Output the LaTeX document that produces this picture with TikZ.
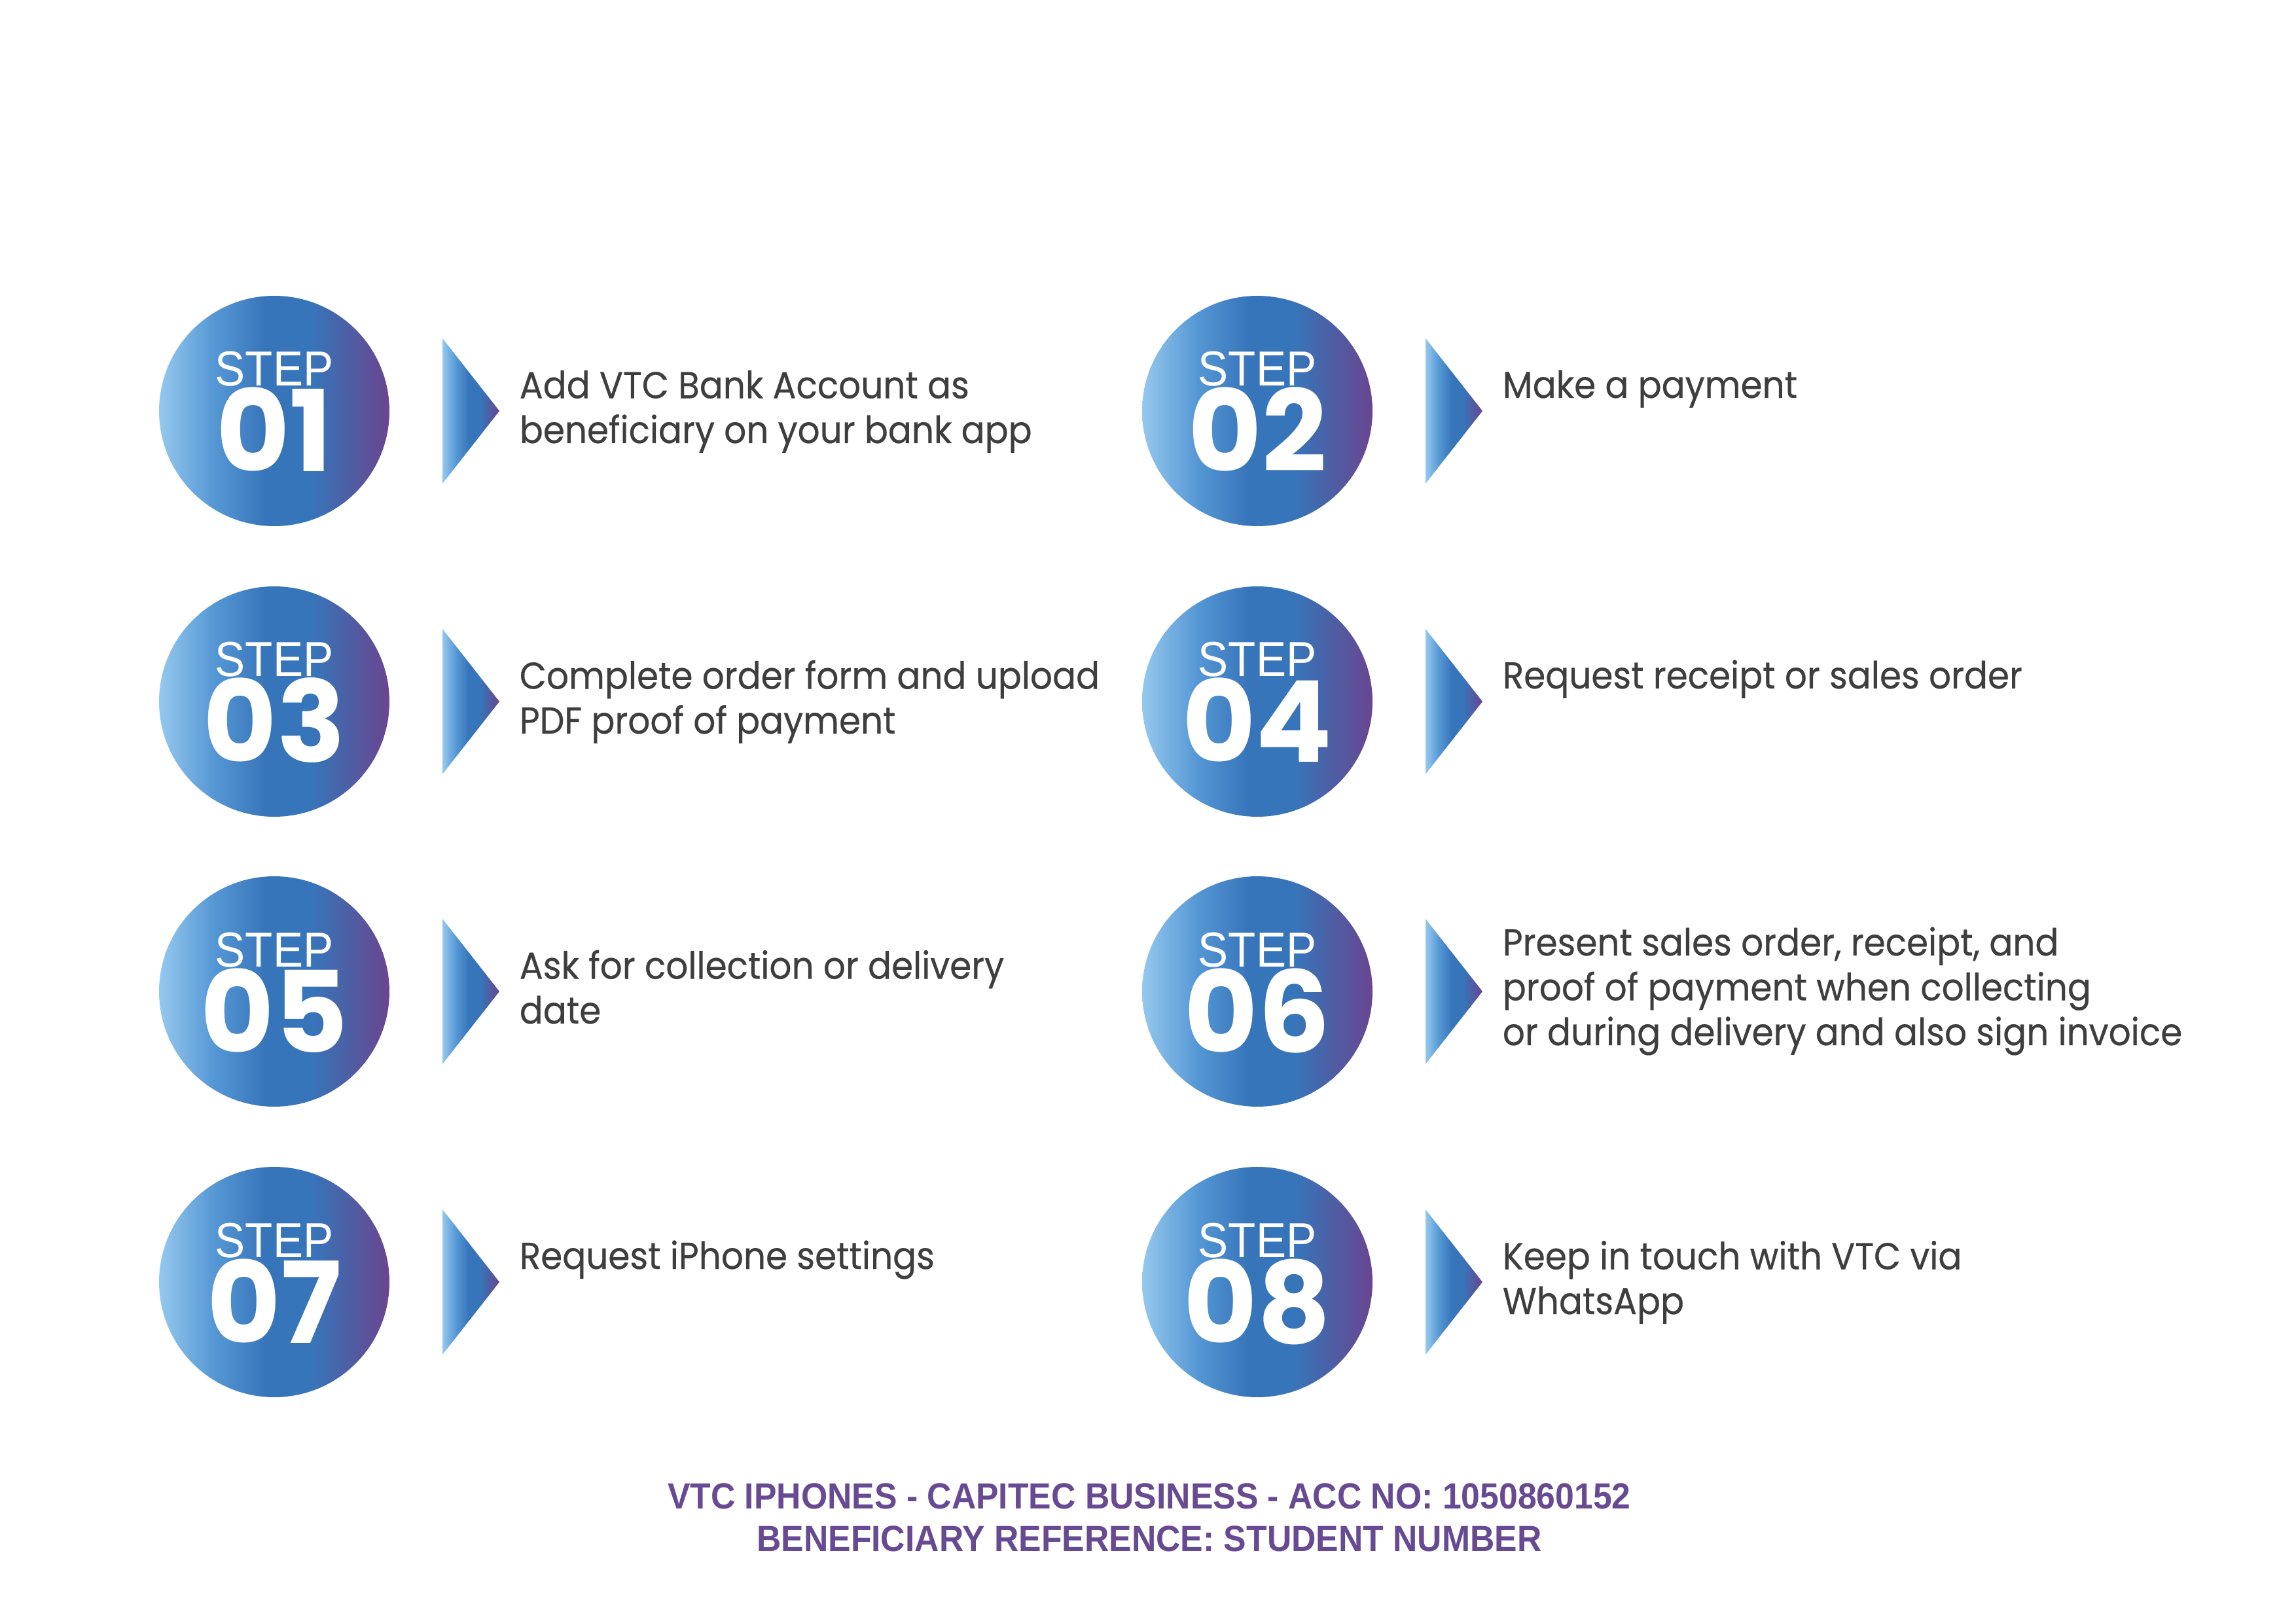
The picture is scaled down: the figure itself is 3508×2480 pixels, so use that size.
\documentclass[tikz,border=0pt]{standalone}
\usepackage{fontspec}
\setmainfont{Poppins}
\newfontfamily\bodyfont{Poppins}[FakeStretch=0.93, FakeBold=0.4]
\newfontfamily\stepfont{Liberation Sans}[FakeStretch=0.92]
\newfontfamily\footfont{Liberation Sans}[FakeStretch=0.93]
\usetikzlibrary{calc}

\definecolor{lightsky}{RGB}{149,200,238}
\definecolor{midblue}{RGB}{85,151,213}
\definecolor{stepblue}{RGB}{55,117,186}
\definecolor{duskblue}{RGB}{77,95,165}
\definecolor{steppurple}{RGB}{106,69,144}
\definecolor{textgrey}{RGB}{62,62,62}
\definecolor{footpurple}{RGB}{103,74,145}
\pgfdeclarehorizontalshading{stepshade}{100bp}{color(0bp)=(lightsky); color(25bp)=(lightsky); color(37bp)=(midblue); color(48bp)=(stepblue); color(58bp)=(stepblue); color(66bp)=(duskblue); color(75bp)=(steppurple); color(100bp)=(steppurple)}

\begin{document}
\begin{tikzpicture}[x=0.0846667mm, y=-0.0846667mm,
  stepcircle/.style={circle, minimum size=29.8mm, inner sep=0pt, shade, shading=stepshade},
  steplabel/.style={text=white, inner sep=0pt, font=\stepfont\fontsize{18.1}{18}\selectfont},
  stepnum/.style={text=white, inner sep=0pt, font=\fontsize{41.6}{42}\selectfont\bfseries},
  steptext/.style={text=textgrey, inner sep=0pt, align=left, font=\bodyfont\fontsize{13.8}{16.5}\selectfont},
  footline/.style={text=footpurple, inner sep=0pt, align=center, font=\footfont\bfseries\fontsize{13.4}{15.6}\selectfont}]

\useasboundingbox (0,0) rectangle (3508,2480);

% steps: number / centre / offset of last baseline / text
\foreach \n/\cx/\cy/\off/\txt in {
  01/419/628/49/{Add VTC Bank Account as\\beneficiary on your bank app},
  02/1921/628/-20/{Make a payment},
  03/419/1072/49/{Complete order form and upload\\PDF proof of payment},
  04/1921/1072/-20/{Request receipt or sales order},
  05/419/1515/49/{Ask for collection or delivery\\date},
  06/1921/1515/82/{Present sales order, receipt, and\\proof of payment when collecting\\or during delivery and also sign invoice},
  07/419/1959/-20/{Request iPhone settings},
  08/1921/1959/49/{Keep in touch with VTC via\\WhatsApp}}
{
  \node[stepcircle] (s\n) at (\cx,\cy) {};
  \node[steplabel, anchor=base] (l\n) at ($(s\n)+(0,-38)$) {STEP};
  \node[stepnum, anchor=base] (n\n) at ($(s\n)+(0,93)$) {\n};
  \shade[shading=stepshade] ($(s\n)+(257,-111)$) -- ++(87,111) -- ++(-87,111) -- cycle;
  \node[steptext, anchor=base west] (t\n) at ($(s\n)+(374,\off)$) {\txt};
}

% account line
\node[footline, anchor=base] (acc) at (1756,2370)
  {VTC IPHONES - CAPITEC BUSINESS - ACC NO: 1050860152\\BENEFICIARY REFERENCE: STUDENT NUMBER};

\end{tikzpicture}
\end{document}
